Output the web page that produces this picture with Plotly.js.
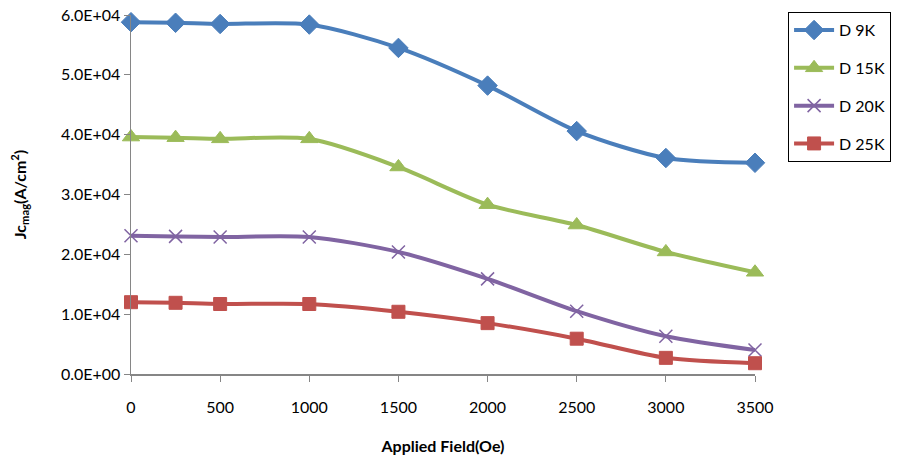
<!DOCTYPE html>
<html><head><meta charset="utf-8">
<script src="https://cdn.plot.ly/plotly-3.0.1.min.js"></script>
<style>html,body{margin:0;padding:0;background:#fff}#chart{width:903px;height:458px}</style>
</head><body><div id="chart"></div>
<script>
const field = [0, 250, 500, 1000, 1500, 2000, 2500, 3000, 3500];
const d9K  = [58800, 58700, 58500, 58400, 54500, 48200, 40600, 36100, 35300];
const d15K = [39600, 39500, 39300, 39300, 34600, 28300, 24900, 20400, 17000];
const d20K = [23100, 23000, 22900, 22900, 20400, 15900, 10500, 6300, 4000];
const d25K = [12000, 11900, 11700, 11700, 10400, 8500, 5900, 2700, 1800];
const seriesNames = ['D 9K', 'D 15K', 'D 20K', 'D 25K'];
const yTickVals = [0, 10000, 20000, 30000, 40000, 50000, 60000];
const yTickText = ['0.0E+00', '1.0E+04', '2.0E+04', '3.0E+04', '4.0E+04', '5.0E+04', '6.0E+04'];
const xTickVals = [0, 500, 1000, 1500, 2000, 2500, 3000, 3500];

const styles = [
  {color: '#4A7EBB', symbol: 'diamond', size: 15, lw: 1},
  {color: '#9BBB59', symbol: 'triangle-up', size: 15, lw: 1},
  {color: '#8064A2', symbol: 'x-thin', size: 13, lw: 1.5},
  {color: '#C0504D', symbol: 'square', size: 13, lw: 1}
];
const ys = [d9K, d15K, d20K, d25K];
const traces = ys.map((y, i) => ({
  x: field, y: y, name: seriesNames[i], type: 'scatter', mode: 'lines+markers',
  line: {color: styles[i].color, width: 4, shape: 'spline', smoothing: 0.8},
  marker: {symbol: styles[i].symbol, size: styles[i].size, color: styles[i].color,
           line: {color: styles[i].color, width: styles[i].lw}},
  legendgroup: 'g' + i, cliponaxis: false
}));

const font = 'Lato, "Open Sans", sans-serif';
const layout = {
  width: 903, height: 458,
  margin: {l: 131, r: 148, t: 15, b: 84},
  paper_bgcolor: '#fff', plot_bgcolor: '#fff',
  font: {family: font, size: 16, color: '#000'},
  showlegend: true,
  legend: {x: 1.053, y: 1.008, xanchor: 'left', yanchor: 'top',
           bordercolor: '#000', borderwidth: 1, bgcolor: '#fff',
           font: {family: font, size: 16, color: '#000'},
           traceorder: 'grouped', tracegroupgap: 14, itemwidth: 40},
  xaxis: {range: [0, 3500], tickvals: xTickVals, ticks: 'outside', ticklen: 6,
          tickcolor: '#868686', showline: true, linecolor: '#868686', linewidth: 1.5,
          showgrid: false, zeroline: false, tickfont: {size: 16}, ticklabelstandoff: 12,
          title: {text: '<b>Applied Field(Oe)</b>', font: {size: 16}, standoff: 26}},
  yaxis: {range: [0, 60000], tickvals: yTickVals, ticktext: yTickText, ticks: 'outside', ticklen: 6,
          tickcolor: '#868686', showline: true, linecolor: '#868686', linewidth: 1.5,
          showgrid: false, zeroline: false, tickfont: {size: 16},
          title: {text: '<b>Jc<sub>mag</sub>(A/cm<sup>2</sup>)</b>', font: {size: 16}, standoff: 30}}
};
Plotly.newPlot('chart', traces, layout, {displayModeBar: false, staticPlot: true});
</script></body></html>
